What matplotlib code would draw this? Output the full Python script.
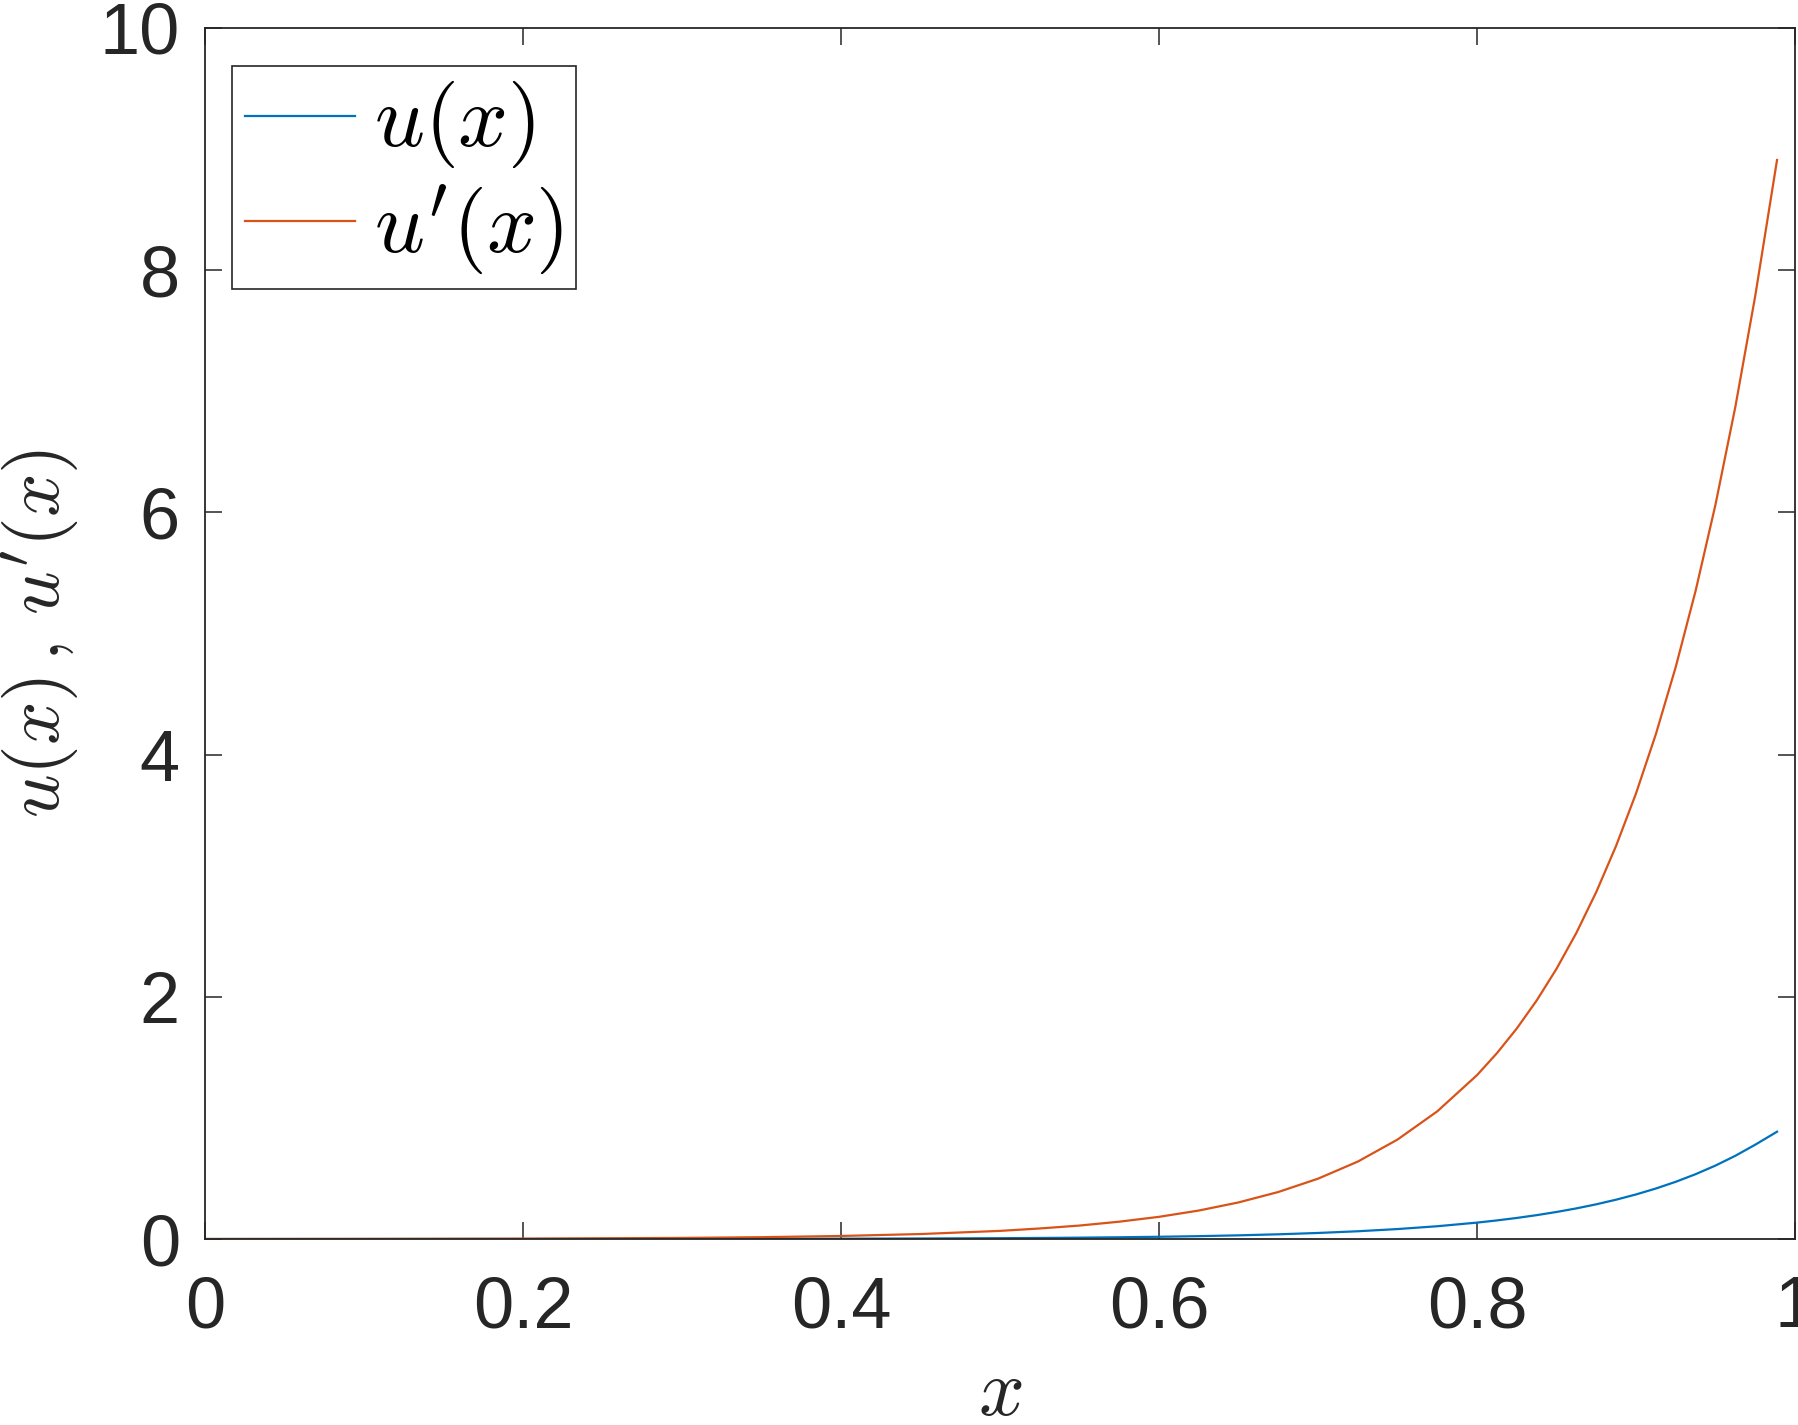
import matplotlib
matplotlib.use("Agg")
import matplotlib.pyplot as plt

# values
x = [0.0, 0.1, 0.2, 0.3, 0.35, 0.4, 0.45, 0.5, 0.525, 0.55, 0.575, 0.6, 0.625, 0.65,
     0.675, 0.7, 0.725, 0.75, 0.775, 0.8, 0.8125, 0.825, 0.8375, 0.85, 0.8625, 0.875,
     0.8875, 0.9, 0.9125, 0.925, 0.9375, 0.95, 0.9625, 0.975, 0.9887]
u = [0.0000, 0.0001, 0.0003, 0.0009, 0.0015, 0.0025, 0.0041, 0.0067, 0.0087, 0.0111,
     0.0143, 0.0183, 0.0235, 0.0302, 0.0388, 0.0498, 0.0639, 0.0821, 0.1054, 0.1353,
     0.1534, 0.1738, 0.1969, 0.2231, 0.2528, 0.2865, 0.3247, 0.3679, 0.4169, 0.4724,
     0.5353, 0.6065, 0.6873, 0.7788, 0.886]
du = [0.000, 0.001, 0.003, 0.009, 0.015, 0.025, 0.041, 0.067, 0.087, 0.111,
      0.143, 0.183, 0.235, 0.302, 0.388, 0.498, 0.639, 0.821, 1.054, 1.353,
      1.534, 1.738, 1.969, 2.231, 2.528, 2.865, 3.247, 3.679, 4.169, 4.724,
      5.353, 6.065, 6.873, 7.788, 8.91]

xticks = [0, 0.2, 0.4, 0.6, 0.8, 1]
xticklabels = ["0", "0.2", "0.4", "0.6", "0.8", "1"]
yticks = [0, 2, 4, 6, 8, 10]
yticklabels = ["0", "2", "4", "6", "8", "10"]

plt.rcParams['mathtext.fontset'] = 'cm'
plt.rcParams['font.family'] = ['Liberation Sans', 'DejaVu Sans']

dark = '#262626'
W, H = 1799, 1425
fig = plt.figure(figsize=(W / 100, H / 100), dpi=100)
ax = fig.add_axes([205 / W, (H - 1239) / H, (1795 - 205) / W, (1239 - 28) / H])

ax.plot(x, u, color='#0072BD', lw=1.6, label=r"$u(x)$")
ax.plot(x, du, color='#D95319', lw=1.6, label=r"$u'(x)$")

ax.set_xlim(0, 1)
ax.set_ylim(0, 10)
ax.set_xticks(xticks)
ax.set_xticklabels(xticklabels)
ax.set_yticks(yticks)
ax.set_yticklabels(yticklabels)
ax.tick_params(direction='in', top=True, right=True, length=12, width=1.1,
               color=dark, labelcolor=dark, labelsize=52)
ax.tick_params(axis='x', pad=26)
ax.tick_params(axis='y', pad=18)
for s in ax.spines.values():
    s.set_color(dark)
    s.set_linewidth(1.3)

ax.set_xlabel(r"$x$", fontsize=58, color=dark)
ax.xaxis.set_label_coords(0.5, -0.097)
ax.set_ylabel(r"$u(x)\,,\,u'(x)$", fontsize=55, color=dark)
ax.yaxis.set_label_coords(-0.078, 0.5)

leg = ax.legend(loc='upper left', bbox_to_anchor=((232 - 205) / 1590, 1 - (66 - 28) / 1211),
                fontsize=63, handlelength=1.25, handletextpad=0.22, borderpad=0.15,
                labelspacing=0.14, borderaxespad=0, fancybox=False, framealpha=1)
leg.get_frame().set_edgecolor(dark)
leg.get_frame().set_linewidth(1.2)

fig.savefig("out.png", dpi=100)
